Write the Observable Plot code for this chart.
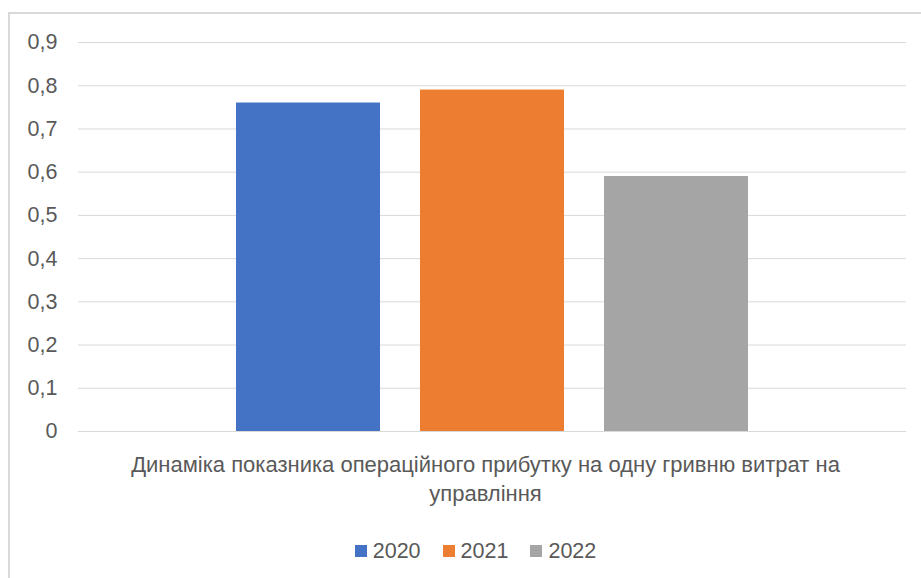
<!DOCTYPE html>
<html>
<head>
<meta charset="utf-8">
<script src="https://cdn.jsdelivr.net/npm/d3@7"></script>
<script src="https://cdn.jsdelivr.net/npm/@observablehq/plot@0.6"></script>
<style>
  html, body { margin: 0; padding: 0; background: #fff; }
  #wrap { position: relative; width: 921px; height: 578px; overflow: hidden; background: #fff; }
  #frame { position: absolute; left: 8px; top: 12px; width: 1000px; height: 1000px; border: 2px solid #d9d9d9; box-sizing: border-box; }
  #chart { position: absolute; left: 0; top: 0; }
  #legend { position: absolute; left: 30px; top: 538px; width: 891px; height: 26px; display: flex; justify-content: center; align-items: center; }
  #legend [class$="-swatch"] > svg { margin-right: 6px !important; }
  #legend [class$="-swatch"] { margin-right: 22px !important; }
  #legend [class$="-swatch"]:last-child { margin-right: 0 !important; }
</style>
</head>
<body>
<div id="wrap">
  <div id="frame"></div>
  <div id="chart"></div>
  <div id="legend"></div>
</div>
<script>
const years = ["2020", "2021", "2022"];
const values = [0.76, 0.79, 0.59];
const colors = ["#4472C4", "#ED7D31", "#A5A5A5"];
const yTicks = [0, 0.1, 0.2, 0.3, 0.4, 0.5, 0.6, 0.7, 0.8, 0.9];
const categoryLabel = "Динаміка показника операційного прибутку на одну гривню витрат на\nуправління";

const data = years.map((year, i) => ({year, value: values[i]}));
const uaFormat = d3.formatLocale({decimal: ",", thousands: " ", grouping: [3], currency: ["", ""]}).format("~g");
const font = "'Liberation Sans', Arial, sans-serif";

const chart = Plot.plot({
  width: 921,
  height: 520,
  marginLeft: 78,
  marginRight: 15,
  marginTop: 42,
  marginBottom: 89,
  style: {fontFamily: font, fontSize: "21.5px", color: "#595959", background: "transparent"},
  x: {domain: years, paddingInner: 0.2174, paddingOuter: 0.8587, axis: null},
  y: {domain: [0, 0.9], ticks: yTicks, tickFormat: uaFormat, tickSize: 0, tickPadding: 21, label: null},
  color: {domain: years, range: colors},
  marks: [
    Plot.ruleY(yTicks, {stroke: "#d9d9d9", strokeWidth: 1}),
    Plot.barY(data, {x: "year", y: "value", fill: "year"}),
    Plot.text([categoryLabel], {text: d => d, frameAnchor: "bottom", lineAnchor: "top", dx: -7, dy: 19, lineHeight: 1.35, fill: "#595959", fontSize: 22})
  ]
});
document.getElementById("chart").appendChild(chart);

const legend = Plot.legend({
  color: {domain: years, range: colors},
  legend: "swatches",
  swatchSize: 12,
  style: {fontFamily: font, fontSize: "21.5px", color: "#595959", margin: 0}
});
document.getElementById("legend").appendChild(legend);
</script>
</body>
</html>
